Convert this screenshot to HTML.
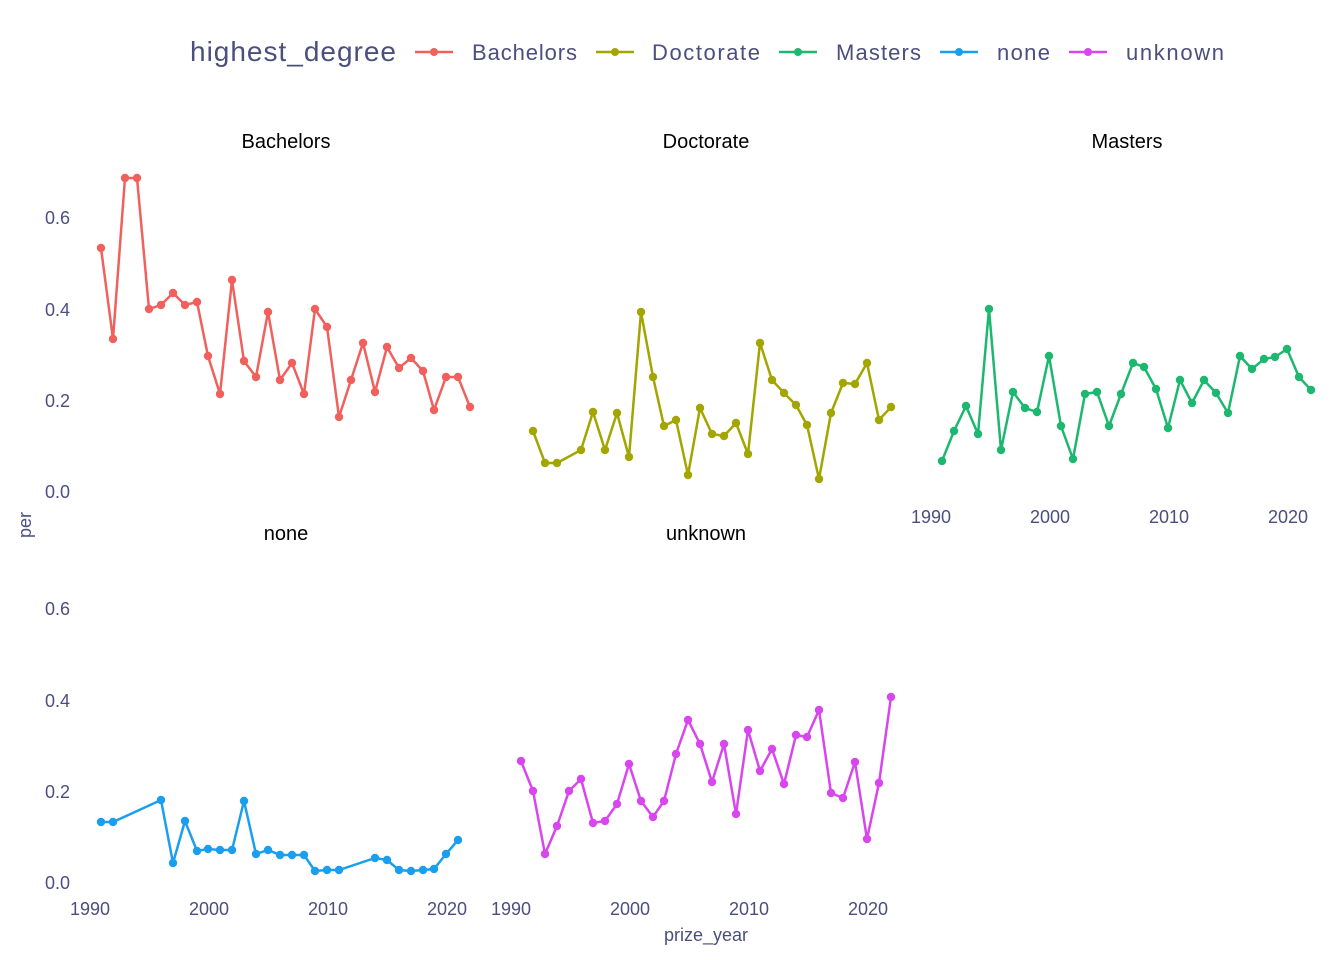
<!DOCTYPE html>
<html><head><meta charset="utf-8"><style>
html,body{margin:0;padding:0;background:#fff}
svg{display:block}
text{font-family:"Liberation Sans","DejaVu Sans",sans-serif}
.t{fill:#4a4f7e;font-size:18px}
.h{fill:#000;font-size:20px}
</style></head><body>
<svg width="1344" height="960" xmlns="http://www.w3.org/2000/svg">
<text x="190" y="61" style="fill:#4a4f7e;font-size:28px" textLength="206">highest_degree</text>
<g class="t">
<line x1="415" y1="52" x2="453" y2="52" stroke="#F0605D" stroke-width="2.5"/><circle cx="434" cy="52" r="4" fill="#F0605D"/><text x="472" y="60" style="font-size:22px" textLength="105">Bachelors</text>
<line x1="596" y1="52" x2="634" y2="52" stroke="#A3A500" stroke-width="2.5"/><circle cx="615" cy="52" r="4" fill="#A3A500"/><text x="652" y="60" style="font-size:22px" textLength="108">Doctorate</text>
<line x1="779" y1="52" x2="817" y2="52" stroke="#1DB86F" stroke-width="2.5"/><circle cx="798" cy="52" r="4" fill="#1DB86F"/><text x="836" y="60" style="font-size:22px" textLength="85">Masters</text>
<line x1="940" y1="52" x2="978" y2="52" stroke="#1A9FEF" stroke-width="2.5"/><circle cx="959" cy="52" r="4" fill="#1A9FEF"/><text x="997" y="60" style="font-size:22px" textLength="53">none</text>
<line x1="1069" y1="52" x2="1107" y2="52" stroke="#D846EE" stroke-width="2.5"/><circle cx="1088" cy="52" r="4" fill="#D846EE"/><text x="1126" y="60" style="font-size:22px" textLength="98">unknown</text>
</g>
<g class="h" text-anchor="middle">
<text x="286" y="148">Bachelors</text><text x="706" y="148">Doctorate</text><text x="1127" y="148">Masters</text>
<text x="286" y="540">none</text><text x="706" y="540">unknown</text>
</g>
<g class="t" text-anchor="end">
<text x="70" y="224">0.6</text><text x="70" y="316">0.4</text><text x="70" y="407">0.2</text><text x="70" y="498">0.0</text>
<text x="70" y="615">0.6</text><text x="70" y="707">0.4</text><text x="70" y="798">0.2</text><text x="70" y="889">0.0</text>
</g>
<g class="t" text-anchor="middle">
<text x="931" y="523">1990</text><text x="1050" y="523">2000</text><text x="1169" y="523">2010</text><text x="1288" y="523">2020</text>
<text x="90" y="915">1990</text><text x="209" y="915">2000</text><text x="328" y="915">2010</text><text x="447" y="915">2020</text>
<text x="511" y="915">1990</text><text x="630" y="915">2000</text><text x="749" y="915">2010</text><text x="868" y="915">2020</text>
<text x="706" y="941">prize_year</text>
<text transform="translate(31,525) rotate(-90)">per</text>
</g>
<g fill="none" stroke-width="2.5">
<polyline stroke="#F0605D" points="101,248 113,339 125,178 137,178 149,309 161,305 173,293 185,305 197,302 208,356 220,394 232,280 244,361 256,377 268,312 280,380 292,363 304,394 315,309 327,327 339,417 351,380 363,343 375,392 387,347 399,368 411,358 423,371 434,410 446,377 458,377 470,407"/>
<polyline stroke="#A3A500" points="533,431 545,463 557,463 581,450 593,412 605,450 617,413 629,457 641,312 653,377 664,426 676,420 688,475 700,408 712,434 724,436 736,423 748,454 760,343 772,380 784,393 796,405 807,425 819,479 831,413 843,383 855,384 867,363 879,420 891,407"/>
<polyline stroke="#1DB86F" points="942,461 954,431 966,406 978,434 989,309 1001,450 1013,392 1025,408 1037,412 1049,356 1061,426 1073,459 1085,394 1097,392 1109,426 1121,394 1133,363 1144,367 1156,389 1168,428 1180,380 1192,403 1204,380 1216,393 1228,413 1240,356 1252,369 1264,359 1275,357 1287,349 1299,377 1311,390"/>
<polyline stroke="#1A9FEF" points="101,822 113,822 161,800 173,863 185,821 197,851 208,849 220,850 232,850 244,801 256,854 268,850 280,855 292,855 304,855 315,871 327,870 339,870 375,858 387,860 399,870 411,871 423,870 434,869 446,854 458,840"/>
<polyline stroke="#D846EE" points="521,761 533,791 545,854 557,826 569,791 581,779 593,823 605,821 617,804 629,764 641,801 653,817 664,801 676,754 688,720 700,744 712,782 724,744 736,814 748,730 760,771 772,749 784,784 796,735 807,737 819,710 831,793 843,798 855,762 867,839 879,783 891,697"/>
</g>
<g id="dots"></g>
<script>
var g=document.getElementById('dots');
document.querySelectorAll('polyline').forEach(function(p){
 var c=p.getAttribute('stroke');
 p.getAttribute('points').trim().split(/\s+/).forEach(function(s){
  var a=s.split(',');
  var e=document.createElementNS('http://www.w3.org/2000/svg','circle');
  e.setAttribute('cx',a[0]);e.setAttribute('cy',a[1]);e.setAttribute('r','4.2');e.setAttribute('fill',c);
  g.appendChild(e);
 });
});
</script>
</svg>
</body></html>
